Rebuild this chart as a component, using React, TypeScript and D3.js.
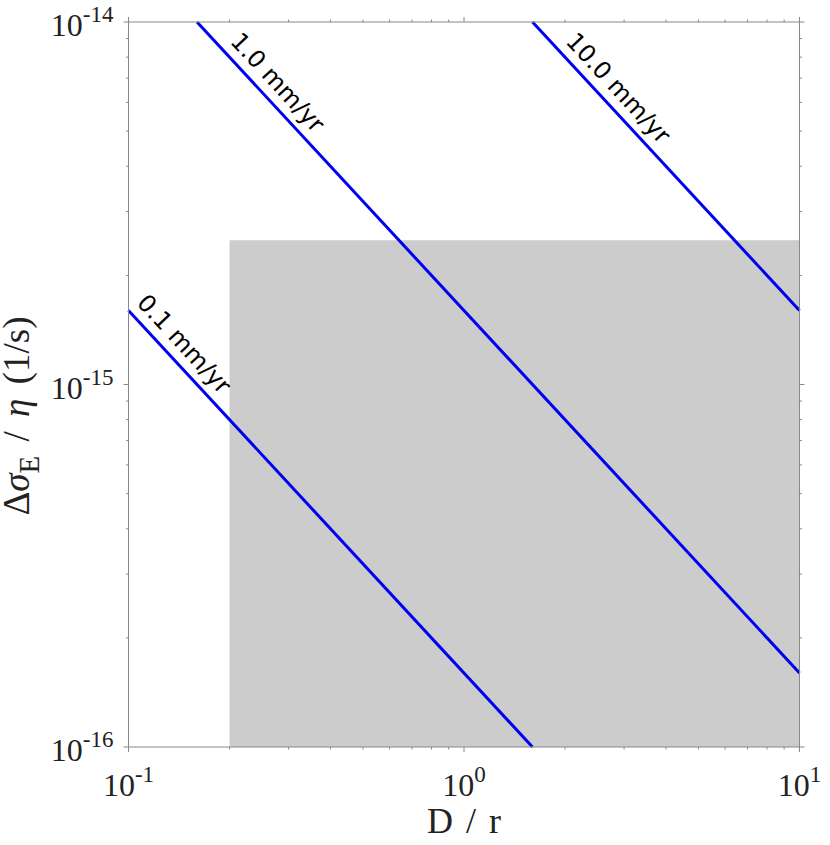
import React from "react";
import * as d3 from "d3";

const xDomain: [number, number] = [0.1, 10];
const yDomain: [number, number] = [1e-16, 1e-14];
const rateLabels = ["0.1 mm/yr", "1.0 mm/yr", "10.0 mm/yr"];
const rateConstants = [1.6e-16, 1.6e-15, 1.6e-14]; // y = c / x
const labelAnchorsX = [0.1, 0.19, 1.9];
const shadedX: [number, number] = [0.2, 10];
const shadedY: [number, number] = [1e-16, 2.5e-15];
const xMajor = [0.1, 1, 10];
const xMajorExp = ["-1", "0", "1"];
const yMajor = [1e-16, 1e-15, 1e-14];
const yMajorExp = ["-16", "-15", "-14"];

const W = 830, H = 845;
const L = 128.5, R = 799.5, T = 22, B = 747;

function minorTicks(lo: number, hi: number) {
  const out: number[] = [];
  for (let e = Math.floor(Math.log10(lo)); e < Math.ceil(Math.log10(hi)); e++) {
    for (let m = 2; m <= 9; m++) {
      const v = m * Math.pow(10, e);
      if (v > lo && v < hi) out.push(v);
    }
  }
  return out;
}

export default function App() {
  const x = d3.scaleLog().domain(xDomain).range([L, R]);
  const y = d3.scaleLog().domain(yDomain).range([B, T]);
  const axisColor = "#888";
  const serif = "'Liberation Serif', 'Times New Roman', serif";
  const sans = "'DejaVu Sans', 'Liberation Sans', sans-serif";
  const line = d3.line<[number, number]>().x(d => x(d[0])).y(d => y(d[1]));
  const xMin = minorTicks(xDomain[0], xDomain[1]);
  const yMin = minorTicks(yDomain[0], yDomain[1]);

  return (
    <svg width={W} height={H} style={{ position: "absolute", left: 0, top: 0, background: "#fff" }}>
      <rect x={x(shadedX[0])} y={y(shadedY[1])} width={x(shadedX[1]) - x(shadedX[0])} height={y(shadedY[0]) - y(shadedY[1])} fill="#cccccc" />
      {rateConstants.map((c, i) => {
        const x0 = Math.max(xDomain[0], c / yDomain[1]);
        const x1 = Math.min(xDomain[1], c / yDomain[0]);
        return <path key={i} d={line([[x0, c / x0], [x1, c / x1]]) || ""} stroke="#0000f0" strokeWidth={3} fill="none" />;
      })}
      <rect x={L} y={T} width={R - L} height={B - T} fill="none" stroke={axisColor} strokeWidth={1} />
      {xMajor.map((v, i) => (
        <g key={"xm" + i}>
          <line x1={x(v)} x2={x(v)} y1={B} y2={B + 5} stroke={axisColor} />
          <line x1={x(v)} x2={x(v)} y1={T} y2={T - 5} stroke={axisColor} />
        </g>
      ))}
      {xMin.map((v, i) => (
        <g key={"xn" + i}>
          <line x1={x(v)} x2={x(v)} y1={B} y2={B + 2.5} stroke={axisColor} />
          <line x1={x(v)} x2={x(v)} y1={T} y2={T - 2.5} stroke={axisColor} />
        </g>
      ))}
      {yMajor.map((v, i) => (
        <g key={"ym" + i}>
          <line x1={L} x2={L - 5} y1={y(v)} y2={y(v)} stroke={axisColor} />
          <line x1={R} x2={R + 5} y1={y(v)} y2={y(v)} stroke={axisColor} />
        </g>
      ))}
      {yMin.map((v, i) => (
        <g key={"yn" + i}>
          <line x1={L} x2={L - 2.5} y1={y(v)} y2={y(v)} stroke={axisColor} />
          <line x1={R} x2={R + 2.5} y1={y(v)} y2={y(v)} stroke={axisColor} />
        </g>
      ))}
      {xMajor.map((v, i) => (
        <text key={"xl" + i} x={x(v)} y={B + 49} textAnchor="middle" fontFamily={serif} fontSize={32} fill="#222">
          10<tspan fontSize={23} dy={-14}>{xMajorExp[i]}</tspan>
        </text>
      ))}
      {yMajor.map((v, i) => (
        <text key={"yl" + i} x={L - 15} y={y(v) + 14} textAnchor="end" fontFamily={serif} fontSize={32} fill="#222">
          10<tspan fontSize={23} dy={-14}>{yMajorExp[i]}</tspan>
        </text>
      ))}
      {rateConstants.map((c, i) => {
        const xv = labelAnchorsX[i];
        const px = x(xv), py = y(c / xv);
        const p2x = x(xv * 2), p2y = y(c / (xv * 2));
        const ang = Math.atan2(p2y - py, p2x - px);
        const off = 10;
        const ux = Math.sin(ang), uy = -Math.cos(ang);
        return (
          <text key={"rl" + i} transform={`translate(${px + off * ux},${py + off * uy}) rotate(${(ang * 180) / Math.PI})`}
            fontFamily={sans} fontSize={24} fill="#000">{rateLabels[i]}</text>
        );
      })}
      <text x={(L + R) / 2} y={833} textAnchor="middle" fontFamily={serif} fontSize={36} wordSpacing={4} fill="#222">D / r</text>
      <text transform={`translate(29,${416}) rotate(-90)`} textAnchor="middle" fontFamily={serif} fontSize={37} wordSpacing={5} fill="#222">
        Δ<tspan fontStyle="italic">σ</tspan><tspan fontSize={29} dy={10}>E</tspan><tspan dy={-10}> / </tspan><tspan fontStyle="italic">η</tspan> (1/s)
      </text>
    </svg>
  );
}
